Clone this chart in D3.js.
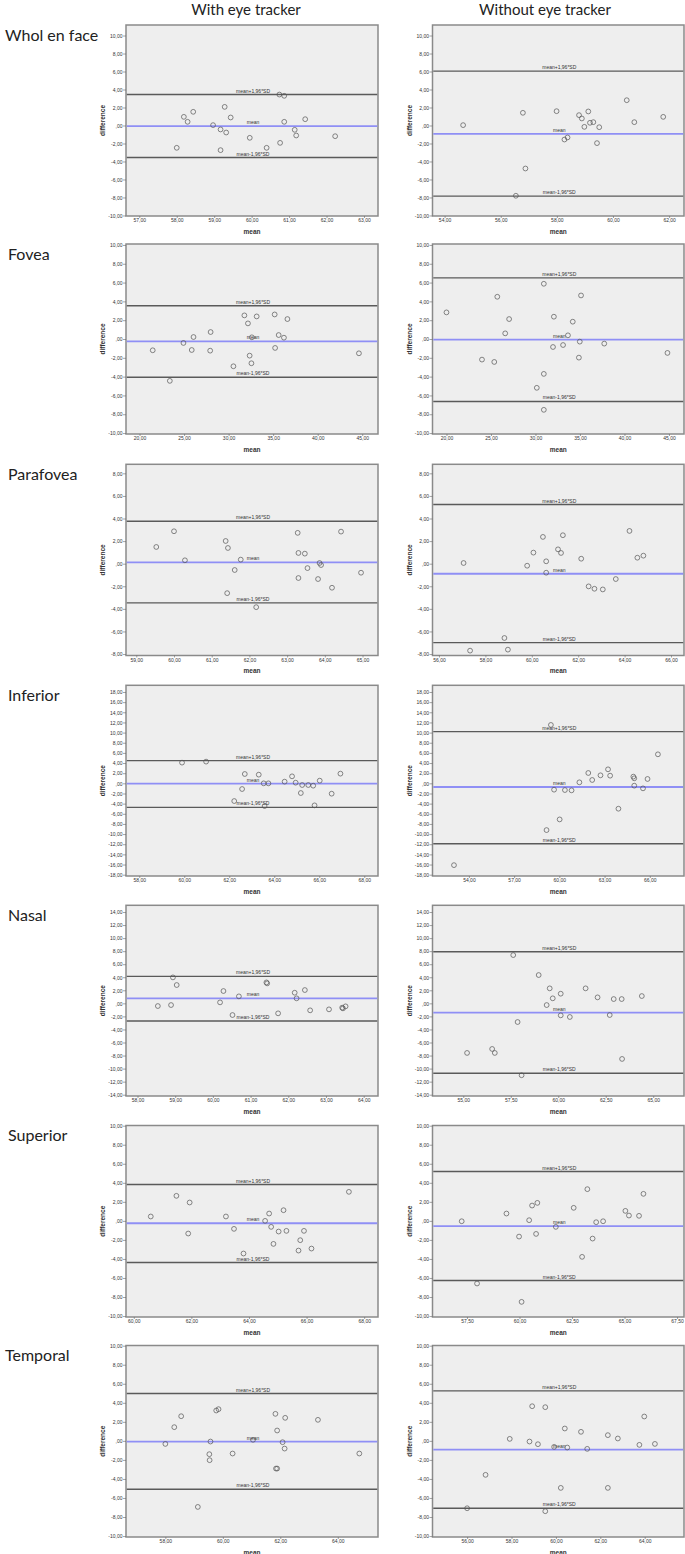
<!DOCTYPE html>
<html><head><meta charset="utf-8">
<script src="https://cdn.jsdelivr.net/npm/d3@7"></script>
<style>
html,body{margin:0;padding:0;background:#fff;}
svg{display:block;}
</style></head><body>
<svg id="chart" width="685" height="1554"></svg>
<script>
// ---------------- DATA ----------------
const columnTitles = ["With eye tracker", "Without eye tracker"];
const regionNames = ["Whol en face", "Fovea", "Parafovea", "Inferior", "Nasal", "Superior", "Temporal"];
const lineLabels = ["mean+1,96*SD", "mean", "mean-1,96*SD"];

// Whol en face
const wholWithMean = [58.00, 58.19, 58.29, 58.44, 58.97, 59.17, 59.17, 59.28, 59.32, 59.44, 59.95, 60.40, 60.74, 60.76, 60.87, 60.87, 61.15, 61.19, 61.43, 62.23];
const wholWithDiff = [-2.48, 0.96, 0.41, 1.52, 0.04, -0.44, -2.74, 2.07, -0.78, 0.89, -1.37, -2.48, 3.44, -1.93, 3.30, 0.41, -0.48, -1.11, 0.70, -1.19];
const wholWithoutMean = [54.66, 56.54, 56.79, 56.88, 57.99, 58.27, 58.38, 58.79, 58.89, 58.98, 59.12, 59.18, 59.30, 59.43, 59.51, 60.49, 60.76, 61.79];
const wholWithoutDiff = [0.04, -7.81, 1.41, -4.78, 1.59, -1.56, -1.33, 1.15, 0.78, -0.15, 1.56, 0.30, 0.37, -1.96, -0.19, 2.81, 0.37, 0.96];

// Fovea
const foveaWithMean = [21.48, 23.40, 24.93, 25.86, 26.06, 27.93, 27.98, 30.54, 31.77, 32.17, 32.36, 32.56, 32.61, 33.15, 35.17, 35.22, 35.62, 36.21, 36.60, 44.63];
const foveaWithDiff = [-1.20, -4.45, -0.42, -1.17, 0.21, -1.24, 0.74, -2.90, 2.51, 1.66, -1.77, -2.58, 0.18, 2.40, 2.61, -0.95, 0.42, 0.14, 2.12, -1.52];
const foveaWithoutMean = [20.00, 23.99, 25.37, 25.71, 26.60, 27.04, 30.15, 30.94, 30.94, 30.94, 31.97, 32.07, 33.10, 33.65, 34.19, 34.88, 34.98, 35.12, 37.73, 44.83];
const foveaWithoutDiff = [2.83, -2.19, -2.44, 4.49, 0.60, 2.12, -5.19, -3.71, 5.87, -7.53, -0.85, 2.37, -0.64, 0.39, 1.84, -1.98, -0.28, 4.63, -0.49, -1.48];

// Parafovea
const parafoveaWithMean = [59.53, 60.00, 60.29, 61.37, 61.41, 61.43, 61.61, 61.77, 62.18, 63.28, 63.30, 63.30, 63.47, 63.54, 63.82, 63.86, 63.90, 64.19, 64.43, 64.96];
const parafoveaWithDiff = [1.48, 2.87, 0.30, 2.01, -2.61, 1.39, -0.56, 0.36, -3.85, 2.73, 0.95, -1.27, 0.89, -0.39, -1.36, 0.06, -0.12, -2.13, 2.84, -0.80];
const parafoveaWithoutMean = [57.06, 57.34, 58.82, 58.97, 59.80, 60.07, 60.48, 60.62, 60.62, 61.13, 61.26, 61.34, 62.13, 62.45, 62.70, 63.06, 63.62, 64.21, 64.55, 64.81];
const parafoveaWithoutDiff = [0.06, -7.70, -6.58, -7.61, -0.18, 0.98, 2.37, 0.21, -0.80, 1.27, 0.95, 2.52, 0.44, -2.01, -2.22, -2.28, -1.36, 2.90, 0.53, 0.71];

// Inferior
const inferiorWithMean = [59.90, 60.97, 62.22, 62.57, 62.69, 63.31, 63.53, 63.57, 63.74, 64.46, 64.79, 64.95, 65.18, 65.24, 65.51, 65.73, 65.79, 66.02, 66.55, 66.94];
const inferiorWithDiff = [4.08, 4.28, -3.49, -1.12, 1.84, 1.71, 0.00, -4.47, 0.00, 0.33, 1.38, 0.13, -1.91, -0.33, -0.33, -0.46, -4.34, 0.53, -2.04, 1.91];
const inferiorWithoutMean = [53.01, 59.15, 59.44, 59.65, 60.02, 60.37, 60.81, 61.33, 61.92, 62.18, 62.73, 63.23, 63.37, 63.92, 64.91, 64.97, 64.97, 65.55, 65.85, 66.54];
const inferiorWithoutDiff = [-16.12, -9.21, 11.51, -1.25, -7.11, -1.32, -1.38, 0.20, 2.04, 0.66, 1.58, 2.76, 1.51, -5.00, 1.32, 0.99, -0.46, -0.99, 0.86, 5.72];

// Nasal
const nasalWithMean = [58.54, 58.89, 58.94, 59.04, 60.19, 60.28, 60.52, 60.69, 61.42, 61.44, 61.73, 62.17, 62.22, 62.44, 62.58, 63.08, 63.43, 63.45, 63.52];
const nasalWithDiff = [-0.41, -0.26, 3.98, 2.81, 0.15, 1.89, -1.79, 1.07, 3.21, 3.06, -1.53, 1.63, 0.77, 2.04, -1.07, -0.92, -0.66, -0.77, -0.46];
const nasalWithoutMean = [55.20, 56.52, 56.66, 57.63, 57.86, 58.07, 58.97, 59.39, 59.55, 59.71, 60.13, 60.13, 60.61, 61.44, 62.07, 62.71, 62.92, 63.34, 63.36, 64.40];
const nasalWithoutDiff = [-7.60, -6.99, -7.60, 7.40, -2.86, -11.02, 4.34, -0.26, 2.30, 0.77, 1.48, -1.84, -2.09, 2.30, 0.92, -1.79, 0.66, 0.66, -8.52, 1.12];

// Superior
const superiorWithMean = [60.59, 61.48, 61.94, 61.89, 63.20, 63.48, 63.81, 64.56, 64.70, 64.77, 64.85, 65.03, 65.20, 65.30, 65.72, 65.78, 65.91, 66.17, 67.47];
const superiorWithDiff = [0.46, 2.63, 1.93, -1.33, 0.46, -0.84, -3.43, 0.00, 0.77, -0.63, -2.42, -1.12, 1.12, -1.05, -3.12, -2.03, -1.05, -2.91, 3.05];
const superiorWithoutMean = [57.25, 57.98, 59.38, 59.98, 60.10, 60.46, 60.60, 60.79, 60.85, 61.73, 62.58, 62.98, 63.23, 63.48, 63.65, 63.98, 65.04, 65.21, 65.69, 65.90];
const superiorWithoutDiff = [-0.04, -6.58, 0.77, -1.65, -8.51, 0.07, 1.61, -1.37, 1.89, -0.63, 1.37, -3.78, 3.33, -1.86, -0.14, -0.04, 1.05, 0.56, 0.53, 2.84];

// Temporal
const temporalWithMean = [58.00, 58.31, 58.55, 59.13, 59.53, 59.54, 59.57, 59.77, 59.85, 60.34, 61.05, 61.83, 61.85, 61.89, 61.89, 62.08, 62.15, 62.17, 63.31, 64.75];
const temporalWithDiff = [-0.32, 1.44, 2.59, -6.94, -1.40, -2.03, -0.07, 3.19, 3.33, -1.33, 0.11, 2.84, -2.91, -2.91, 1.09, -0.14, -0.81, 2.42, 2.21, -1.33];
const temporalWithoutMean = [56.00, 56.83, 57.92, 58.81, 58.93, 59.19, 59.52, 59.52, 59.92, 60.22, 60.40, 60.51, 61.13, 61.41, 62.34, 62.34, 62.79, 63.76, 63.98, 64.46];
const temporalWithoutDiff = [-7.08, -3.57, 0.21, -0.07, 3.64, -0.35, 3.54, -7.39, -0.63, -4.94, 1.30, -0.70, 0.95, -0.84, 0.60, -4.94, 0.25, -0.42, 2.56, -0.32];

// mean difference and limits of agreement, per region
const biasWith = [-0.06, -0.25, 0.12, -0.07, 0.77, -0.25, -0.07];
const upperWith = [3.44, 3.53, 3.76, 4.47, 4.13, 3.82, 4.97];
const lowerWith = [-3.56, -4.06, -3.47, -4.74, -2.70, -4.38, -5.08];
const biasWithout = [-0.93, -0.07, -0.89, -0.72, -1.43, -0.56, -0.91];
const upperWithout = [6.04, 6.50, 5.24, 10.20, 7.91, 5.18, 5.25];
const lowerWithout = [-7.85, -6.64, -6.99, -11.90, -10.71, -6.27, -7.08];

// tick values
const wholWithTicks = [57, 58, 59, 60, 61, 62, 63];
const wholWithoutTicks = [54, 56, 58, 60, 62];
const foveaTicks = [20, 25, 30, 35, 40, 45];
const parafoveaWithTicks = [59, 60, 61, 62, 63, 64, 65];
const parafoveaWithoutTicks = [56, 58, 60, 62, 64, 66];
const inferiorWithTicks = [58, 60, 62, 64, 66, 68];
const inferiorWithoutTicks = [54, 57, 60, 63, 66];
const nasalWithTicks = [58, 59, 60, 61, 62, 63, 64];
const nasalWithoutTicks = [55, 57.5, 60, 62.5, 65];
const superiorWithTicks = [60, 62, 64, 66, 68];
const superiorWithoutTicks = [57.5, 60, 62.5, 65, 67.5];
const temporalWithTicks = [58, 60, 62, 64];
const temporalWithoutTicks = [56, 58, 60, 62, 64];
const yTicks10 = [-10, -8, -6, -4, -2, 0, 2, 4, 6, 8, 10];
const yTicks8 = [-8, -6, -4, -2, 0, 2, 4, 6, 8];
const yTicks18 = [-18, -16, -14, -12, -10, -8, -6, -4, -2, 0, 2, 4, 6, 8, 10, 12, 14, 16, 18];
const yTicks14 = [-14, -12, -10, -8, -6, -4, -2, 0, 2, 4, 6, 8, 10, 12, 14];

// ---------------- LAYOUT ----------------
const colFrames = [[126, 378], [432.5, 684]];
const rowFrames = [
  {top: 25, bottom: 216, yTop: 11.17, yBot: -10.06},
  {top: 244, bottom: 434, yTop: 10.1, yBot: -10.1},
  {top: 464.3, bottom: 655.5, yTop: 8.8, yBot: -8.13},
  {top: 685.3, bottom: 876, yTop: 19.32, yBot: -18.26},
  {top: 905.3, bottom: 1096, yTop: 15.03, yBot: -14.2},
  {top: 1125.5, bottom: 1317, yTop: 10.02, yBot: -10.1},
  {top: 1345.5, bottom: 1537, yTop: 10.02, yBot: -10.1}
];
const xDomains = [
  [[56.645, 63.374], [53.569, 62.53]],
  [[18.48, 46.77], [18.43, 46.69]],
  [[58.727, 65.41], [55.72, 66.56]],
  [[57.41, 68.61], [51.585, 68.27]],
  [[57.695, 64.38], [53.38, 66.62]],
  [[59.73, 68.48], [55.86, 67.83]],
  [[56.63, 65.4], [54.44, 65.77]]
];

const panels = [
  [{m: wholWithMean, d: wholWithDiff, t: wholWithTicks}, {m: wholWithoutMean, d: wholWithoutDiff, t: wholWithoutTicks}],
  [{m: foveaWithMean, d: foveaWithDiff, t: foveaTicks}, {m: foveaWithoutMean, d: foveaWithoutDiff, t: foveaTicks}],
  [{m: parafoveaWithMean, d: parafoveaWithDiff, t: parafoveaWithTicks}, {m: parafoveaWithoutMean, d: parafoveaWithoutDiff, t: parafoveaWithoutTicks}],
  [{m: inferiorWithMean, d: inferiorWithDiff, t: inferiorWithTicks}, {m: inferiorWithoutMean, d: inferiorWithoutDiff, t: inferiorWithoutTicks}],
  [{m: nasalWithMean, d: nasalWithDiff, t: nasalWithTicks}, {m: nasalWithoutMean, d: nasalWithoutDiff, t: nasalWithoutTicks}],
  [{m: superiorWithMean, d: superiorWithDiff, t: superiorWithTicks}, {m: superiorWithoutMean, d: superiorWithoutDiff, t: superiorWithoutTicks}],
  [{m: temporalWithMean, d: temporalWithDiff, t: temporalWithTicks}, {m: temporalWithoutMean, d: temporalWithoutDiff, t: temporalWithoutTicks}]
];
const rowYTicks = [yTicks10, yTicks10, yTicks8, yTicks18, yTicks14, yTicks10, yTicks10];
const limits = [
  {b: biasWith, u: upperWith, l: lowerWith},
  {b: biasWithout, u: upperWithout, l: lowerWithout}
];

const fmt = v => v === 0 ? ",00" : v.toFixed(2).replace(".", ",");
const svg = d3.select("#chart");
const TXT = "Liberation Sans, Arial, sans-serif";
const TITLE = "Lato, 'Open Sans', sans-serif";

// column titles
svg.selectAll("text.coltitle").data(columnTitles).join("text")
  .attr("class", "coltitle")
  .attr("x", (d, i) => i === 0 ? 246 : 545)
  .attr("y", 15)
  .attr("text-anchor", "middle")
  .attr("font-family", TITLE).attr("font-size", 15).attr("fill", "#222")
  .text(d => d);

// row labels
svg.selectAll("text.rowlabel").data(regionNames).join("text")
  .attr("class", "rowlabel")
  .attr("x", (d, i) => (i === 0 || i === 6) ? 5 : 8)
  .attr("y", (d, i) => rowFrames[i].top + 15.5)
  .attr("font-family", TITLE).attr("font-size", 16).attr("fill", "#222")
  .text(d => d);

panels.forEach((row, r) => {
  const rf = rowFrames[r];
  row.forEach((p, c) => {
    const [x0, x1] = colFrames[c];
    const x = d3.scaleLinear().domain(xDomains[r][c]).range([x0, x1]);
    const y = d3.scaleLinear().domain([rf.yTop, rf.yBot]).range([rf.top, rf.bottom]);
    const g = svg.append("g");

    g.append("rect")
      .attr("x", x0).attr("y", rf.top)
      .attr("width", x1 - x0).attr("height", rf.bottom - rf.top)
      .attr("fill", "#eeeeee").attr("stroke", "#8a8a8a").attr("stroke-width", 1.5);

    // y axis
    const ya = g.append("g").attr("transform", `translate(${x0},0)`)
      .call(d3.axisLeft(y).tickValues(rowYTicks[r]).tickFormat(fmt).tickSize(3).tickPadding(0.5));
    ya.select(".domain").remove();
    ya.selectAll("line").attr("stroke", "#666").attr("stroke-width", 0.6);
    ya.selectAll("text").attr("font-size", 5).attr("font-family", TXT).attr("fill", "#333").attr("dy", "0.35em");

    // x axis
    const xa = g.append("g").attr("transform", `translate(0,${rf.bottom})`)
      .call(d3.axisBottom(x).tickValues(p.t).tickFormat(fmt).tickSize(2).tickPadding(0.5));
    xa.select(".domain").remove();
    xa.selectAll("line").attr("stroke", "#666").attr("stroke-width", 0.6);
    xa.selectAll("text").attr("font-size", 5).attr("font-family", TXT).attr("fill", "#333");

    // axis titles
    g.append("text")
      .attr("transform", `translate(${x0 - 23},${(rf.top + rf.bottom) / 2}) rotate(-90)`)
      .attr("text-anchor", "middle").attr("dy", "0.35em")
      .attr("font-family", TXT).attr("font-size", 6.5).attr("font-weight", "bold").attr("fill", "#333")
      .text("difference");
    g.append("text")
      .attr("x", (x0 + x1) / 2).attr("y", rf.bottom + 17.5)
      .attr("text-anchor", "middle")
      .attr("font-family", TXT).attr("font-size", 6.5).attr("font-weight", "bold").attr("fill", "#333")
      .text("mean");

    // reference lines
    const lim = limits[c];
    const refs = [lim.u[r], lim.b[r], lim.l[r]];
    g.selectAll("line.ref").data(refs).join("line")
      .attr("class", "ref")
      .attr("x1", x0 + 0.75).attr("x2", x1 - 0.75)
      .attr("y1", d => y(d)).attr("y2", d => y(d))
      .attr("stroke", (d, i) => i === 1 ? "#8f8ff5" : "#5a5a5a")
      .attr("stroke-width", (d, i) => i === 1 ? 1.8 : 1.4);
    g.selectAll("text.reflab").data(refs).join("text")
      .attr("class", "reflab")
      .attr("x", (x0 + x1) / 2 + 1).attr("y", d => y(d) - 2)
      .attr("text-anchor", "middle")
      .attr("font-family", TXT).attr("font-size", 5).attr("fill", "#333")
      .text((d, i) => lineLabels[i]);

    // points
    g.selectAll("circle").data(p.m.map((m, i) => [m, p.d[i]])).join("circle")
      .attr("cx", d => x(d[0])).attr("cy", d => y(d[1]))
      .attr("r", 2.4)
      .attr("fill", "none").attr("stroke", "#555").attr("stroke-width", 0.7);
  });
});
</script>
</body></html>
